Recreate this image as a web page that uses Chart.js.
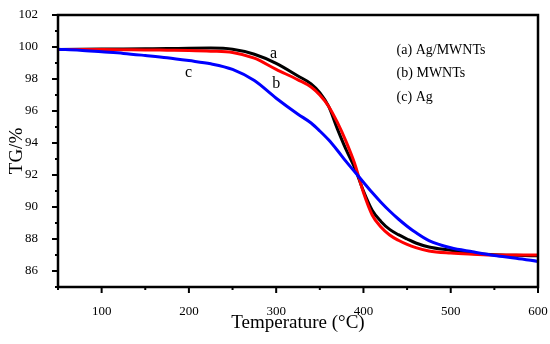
<!DOCTYPE html>
<html>
<head>
<meta charset="utf-8">
<script src="https://cdn.jsdelivr.net/npm/chart.js@4.4.0/dist/chart.umd.min.js"></script>
<style>
  html, body { margin: 0; padding: 0; background: #fff; }
  #wrap { width: 550px; height: 344px; }
</style>
</head>
<body>
<div id="wrap"><canvas id="grafico"></canvas></div>
<script>
// temperature (°C)
var temps = [50, 75, 100, 125, 150, 175, 200, 225, 250, 275, 300, 325, 340, 350, 360, 370, 380, 390, 400, 410, 420, 430, 440, 450, 460, 475, 500, 525, 550, 575, 600];
// TG (%) for each sample
var tgAgMwnt = [99.85, 99.86, 99.87, 99.88, 99.89, 99.9, 99.92, 99.93, 99.86, 99.55, 98.98, 98.19, 97.7, 97.15, 96.3, 94.9, 93.6, 92.45, 91.0, 89.8, 89.1, 88.6, 88.27, 88.0, 87.75, 87.5, 87.3, 87.1, 87.02, 86.98, 86.95];
var tgMwnt = [99.85, 99.85, 99.84, 99.83, 99.82, 99.8, 99.78, 99.74, 99.66, 99.3, 98.6, 97.95, 97.5, 97.0, 96.3, 95.3, 94.1, 92.7, 90.9, 89.5, 88.75, 88.25, 87.92, 87.66, 87.46, 87.25, 87.12, 87.05, 87.0, 87.0, 87.0];
var tgAg = [99.86, 99.8, 99.7, 99.6, 99.47, 99.33, 99.15, 98.95, 98.6, 97.9, 96.8, 95.8, 95.25, 94.75, 94.2, 93.55, 92.85, 92.2, 91.55, 90.9, 90.3, 89.75, 89.25, 88.8, 88.4, 87.9, 87.45, 87.2, 86.97, 86.8, 86.6];

var xTicks = [50, 100, 150, 200, 250, 300, 350, 400, 450, 500, 550, 600];
var yTicks = [86, 88, 90, 92, 94, 96, 98, 100, 102];
var yMinor = [85, 87, 89, 91, 93, 95, 97, 99, 101];

var legendLines = ['(a) Ag/MWNTs', '(b) MWNTs', '(c) Ag'];
var curveNames = ['a', 'b', 'c'];

var serif = '"Liberation Serif", "Times New Roman", serif';

function pts(vals) {
  return temps.map(function (t, i) { return { x: t, y: vals[i] }; });
}

// frame, tick marks and the text labels inside the plot
var decor = {
  id: 'decor',
  afterDatasetsDraw: function (chart) {
    var ctx = chart.ctx, a = chart.chartArea, x = chart.scales.x, y = chart.scales.y;
    ctx.save();
    ctx.strokeStyle = '#000';
    ctx.lineWidth = 2.5;
    ctx.strokeRect(a.left, a.top, a.right - a.left, a.bottom - a.top);

    ctx.lineWidth = 2;
    ctx.beginPath();
    xTicks.forEach(function (v) {
      var px = x.getPixelForValue(v);
      var len = v % 100 === 0 ? 6 : 3;
      ctx.moveTo(px, a.bottom);
      ctx.lineTo(px, a.bottom + len);
    });
    yTicks.forEach(function (v) {
      var py = y.getPixelForValue(v);
      ctx.moveTo(a.left, py);
      ctx.lineTo(a.left - 6, py);
    });
    yMinor.forEach(function (v) {
      var py = y.getPixelForValue(v);
      ctx.moveTo(a.left, py);
      ctx.lineTo(a.left - 3, py);
    });
    ctx.stroke();

    ctx.fillStyle = '#000';
    ctx.textBaseline = 'middle';
    ctx.textAlign = 'left';
    ctx.font = '14px ' + serif;
    var legY = [99.8, 98.37, 96.87];
    legendLines.forEach(function (txt, i) {
      ctx.fillText(txt, x.getPixelForValue(438), y.getPixelForValue(legY[i]));
    });

    ctx.font = '16px ' + serif;
    ctx.textAlign = 'center';
    var lx = [297, 300, 199.5];
    var ly = [99.6, 97.73, 98.36];
    curveNames.forEach(function (txt, i) {
      ctx.fillText(txt, x.getPixelForValue(lx[i]), y.getPixelForValue(ly[i]));
    });
    ctx.restore();
  }
};

var ctx = document.getElementById('grafico');
var chart = new Chart(ctx, {
  type: 'line',
  data: {
    datasets: [{
      label: 'Ag/MWNTs',
      data: pts(tgAgMwnt),
      borderColor: '#000000',
      order: 2
    }, {
      label: 'MWNTs',
      data: pts(tgMwnt),
      borderColor: '#ff0000',
      order: 1
    }, {
      label: 'Ag',
      data: pts(tgAg),
      borderColor: '#0000ff',
      order: 0
    }]
  },
  options: {
    responsive: true,
    maintainAspectRatio: false,
    animation: false,
    layout: { padding: { left: 0, top: 15, right: 12, bottom: 0 } },
    elements: {
      point: { radius: 0 },
      line: { borderWidth: 3, cubicInterpolationMode: 'monotone', fill: false }
    },
    plugins: {
      legend: { display: false },
      tooltip: { enabled: false }
    },
    scales: {
      x: {
        type: 'linear',
        min: 50,
        max: 600,
        afterBuildTicks: function (scale) {
          scale.ticks = xTicks.map(function (v) { return { value: v }; });
        },
        afterFit: function (scale) {
          scale.height = 57;
          scale.paddingLeft = 0;
          scale.paddingRight = 0;
        },
        grid: { display: false },
        border: { display: false },
        ticks: {
          padding: 9,
          color: '#000',
          maxRotation: 0,
          autoSkip: false,
          font: { family: serif, size: 13 },
          callback: function (v) { return (v % 100 === 0) ? String(v) : ''; }
        },
        title: {
          display: true,
          text: 'Temperature (°C)',
          color: '#000',
          font: { family: serif, size: 19 },
          padding: { top: 0, bottom: 10 }
        }
      },
      y: {
        min: 85,
        max: 102,
        afterBuildTicks: function (scale) {
          scale.ticks = yTicks.map(function (v) { return { value: v }; });
        },
        afterFit: function (scale) {
          scale.width = 58;
          scale.paddingTop = 0;
          scale.paddingBottom = 0;
        },
        grid: { display: false },
        border: { display: false },
        ticks: {
          padding: 12,
          color: '#000',
          autoSkip: false,
          font: { family: serif, size: 13 }
        },
        title: {
          display: true,
          text: 'TG/%',
          color: '#000',
          font: { family: serif, size: 19 },
          padding: { top: 6, bottom: 0 }
        }
      }
    }
  },
  plugins: [decor]
});
</script>
</body>
</html>
